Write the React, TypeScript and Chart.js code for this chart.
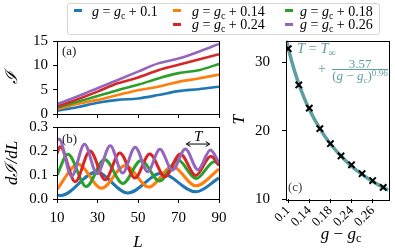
import React, { useEffect, useRef } from "react";
import { Chart, registerables } from "chart.js";

Chart.register(...registerables);

const FONT = "'Liberation Serif', 'DejaVu Serif', serif";
const COLORS = ["#1f77b4", "#ff7f0e", "#2ca02c", "#d62728", "#9467bd"];
const FIT_COLOR = "#5f9ea0";
const LEGEND_LABELS = ["0.1", "0.14", "0.18", "0.24", "0.26"];

// ticks
const L_TICKS = [10, 30, 50, 70, 90];
const A_Y_TICKS = [0, 5, 10, 15];
const B_Y_TICKS = [0, 0.1, 0.2, 0.3];
const C_X_TICKS = [0.1, 0.14, 0.18, 0.22, 0.26];
const C_X_LABELS = ["0.1", "0.14", "0.18", "0.24", "0.26"];
const C_Y_TICKS = [10, 20, 30];

// panel (a): I vs L
const L_A = [10, 20, 30, 40, 50, 60, 70, 80, 90];
const I_BLUE = [0.7, 1.4, 2.3, 2.9, 3.2, 3.9, 4.7, 5.1, 5.6];
const I_ORANGE = [1.0, 2.05, 2.9, 3.9, 4.9, 5.6, 6.6, 7.3, 8.1];
const I_GREEN = [1.3, 2.5, 3.7, 4.9, 6.0, 7.3, 8.4, 9.0, 10.3];
const I_RED = [1.5, 3.0, 4.6, 6.3, 7.5, 9.0, 10.1, 11.2, 12.3];
const I_PURPLE = [2.0, 3.6, 5.3, 7.0, 8.7, 10.4, 11.4, 12.8, 14.4];

// panel (b): dI/dL vs L
const L_B_BLUE = [10, 12, 29.4, 45, 61.5, 78.5, 90];
const D_BLUE = [0.016, 0.015, 0.112, 0.025, 0.107, 0.03, 0.088];
const L_B_ORANGE = [10, 20.4, 32, 43.7, 55.3, 67, 78.6, 90];
const D_ORANGE = [0.04, 0.145, 0.045, 0.14, 0.05, 0.135, 0.055, 0.125];
const L_B_GREEN = [10, 15.4, 24.5, 33.5, 42.5, 51.5, 60.6, 69.7, 78.7, 87.7, 90];
const D_GREEN = [0.1, 0.186, 0.052, 0.165, 0.065, 0.16, 0.075, 0.162, 0.085, 0.155, 0.145];
const L_B_RED = [10, 11.5, 19, 26.3, 33.8, 41, 48.5, 55.8, 63.3, 70.9, 78.5, 86, 90];
const D_RED = [0.19, 0.218, 0.072, 0.2, 0.08, 0.192, 0.088, 0.187, 0.093, 0.188, 0.098, 0.178, 0.14];
const L_B_PURPLE = [10, 11, 17.2, 23.6, 29.8, 36.3, 42.4, 48.6, 54.8, 60.8, 67, 73.4, 79.6, 85.8, 90];
const D_PURPLE = [0.245, 0.25, 0.095, 0.228, 0.105, 0.222, 0.108, 0.216, 0.114, 0.207, 0.12, 0.208, 0.122, 0.204, 0.15];

// period arrow annotation in (b)
const T_ARROW_L = [73.9, 85.4];
const T_ARROW_Y = 0.229;
const T_TEXT_L = 79.7;
const T_TEXT_Y = 0.258;

// panel (c): T vs g - gc
const G_PTS = [0.1, 0.12, 0.14, 0.16, 0.18, 0.2, 0.22, 0.24, 0.26, 0.28];
const T_PTS = [32.0, 26.7, 23.3, 20.3, 18.1, 16.3, 15.0, 13.7, 12.7, 11.7];
const G_FIT = [0.0965, 0.1, 0.11, 0.12, 0.13, 0.14, 0.16, 0.18, 0.2, 0.22, 0.24, 0.26, 0.28, 0.29];
const T_FIT = [33.2, 32.1, 29.25, 26.85, 24.85, 23.1, 20.3, 18.05, 16.3, 14.8, 13.6, 12.55, 11.7, 11.3];

const SERIES_A = [I_BLUE, I_ORANGE, I_GREEN, I_RED, I_PURPLE];
const SERIES_B_L = [L_B_BLUE, L_B_ORANGE, L_B_GREEN, L_B_RED, L_B_PURPLE];
const SERIES_B = [D_BLUE, D_ORANGE, D_GREEN, D_RED, D_PURPLE];

const gridOpts = {
  display: true,
  drawOnChartArea: false,
  drawTicks: true,
  tickLength: 4,
  color: "#000",
  lineWidth: 1,
};
const tickFont = { family: FONT, size: 15 };
const titleFont = { family: FONT, size: 17, style: "italic" as const };

const setTicks = (values: number[]) => (scale: any) => {
  scale.ticks = values.map((v) => ({ value: v }));
};
const fixW = (w: number) => (scale: any) => {
  scale.width = w;
  scale.paddingLeft = scale.paddingRight = scale.paddingTop = scale.paddingBottom = 0;
};
const fixH = (h: number) => (scale: any) => {
  scale.height = h;
  scale.paddingLeft = scale.paddingRight = scale.paddingTop = scale.paddingBottom = 0;
};

const framePlugin = {
  id: "frame",
  afterDraw(chart: any) {
    const { ctx, chartArea: a } = chart;
    ctx.save();
    ctx.strokeStyle = "#000";
    ctx.lineWidth = 1;
    ctx.strokeRect(Math.round(a.left) + 0.5, Math.round(a.top) + 0.5, Math.round(a.right - a.left), Math.round(a.bottom - a.top));
    ctx.restore();
  },
};

const arrowPlugin = {
  id: "periodArrow",
  afterDatasetsDraw(chart: any) {
    const { ctx, scales } = chart;
    const x0 = scales.x.getPixelForValue(T_ARROW_L[0]);
    const x1 = scales.x.getPixelForValue(T_ARROW_L[1]);
    const y = scales.y.getPixelForValue(T_ARROW_Y);
    ctx.save();
    ctx.strokeStyle = "#000";
    ctx.lineWidth = 1;
    ctx.beginPath();
    ctx.moveTo(x0, y);
    ctx.lineTo(x1, y);
    ctx.moveTo(x0 + 4, y - 2.5);
    ctx.lineTo(x0, y);
    ctx.lineTo(x0 + 4, y + 2.5);
    ctx.moveTo(x1 - 4, y - 2.5);
    ctx.lineTo(x1, y);
    ctx.lineTo(x1 - 4, y + 2.5);
    ctx.stroke();
    ctx.fillStyle = "#000";
    ctx.font = `italic 15px ${FONT}`;
    ctx.textAlign = "center";
    ctx.textBaseline = "middle";
    ctx.fillText("T", scales.x.getPixelForValue(T_TEXT_L), scales.y.getPixelForValue(T_TEXT_Y));
    ctx.restore();
  },
};

const baseOptions = (padding: any) => ({
  responsive: false,
  animation: false as const,
  events: [] as any[],
  layout: { padding },
  plugins: { legend: { display: false }, tooltip: { enabled: false } },
});

function configA(): any {
  return {
    type: "line",
    data: {
      datasets: SERIES_A.map((s, i) => ({
        data: L_A.map((L, j) => ({ x: L, y: s[j] })),
        borderColor: COLORS[i],
        borderWidth: 2.6,
        pointRadius: 0,
        cubicInterpolationMode: "monotone",
        order: 4 - i,
      })),
    },
    options: {
      ...baseOptions({ left: 0, top: 13, right: 11, bottom: 2 }),
      scales: {
        x: {
          type: "linear", min: 10, max: 90,
          afterBuildTicks: setTicks(L_TICKS), afterFit: fixH(6),
          ticks: { display: false }, grid: gridOpts, border: { display: false },
        },
        y: {
          type: "linear", min: 0, max: 15,
          afterBuildTicks: setTicks(A_Y_TICKS), afterFit: fixW(57),
          ticks: { font: tickFont, color: "#000", padding: 5, callback: (v: any) => String(v) },
          grid: gridOpts, border: { display: false },
          title: { display: true, text: "\u2110", font: titleFont, color: "#000", padding: { top: 2.3, bottom: 0 } },
        },
      },
    },
    plugins: [framePlugin],
  };
}

function configB(): any {
  return {
    type: "line",
    data: {
      datasets: SERIES_B.map((s, i) => ({
        data: SERIES_B_L[i].map((L, j) => ({ x: L, y: s[j] })),
        borderColor: COLORS[i],
        borderWidth: 3,
        pointRadius: 0,
        cubicInterpolationMode: "monotone",
        order: 4 - i,
      })),
    },
    options: {
      ...baseOptions({ left: 0, top: 11, right: 11, bottom: 0 }),
      scales: {
        x: {
          type: "linear", min: 10, max: 90,
          afterBuildTicks: setTicks(L_TICKS), afterFit: fixH(58),
          ticks: { font: tickFont, color: "#000", padding: 6, maxRotation: 0, autoSkip: false, callback: (v: any) => String(v) },
          grid: gridOpts, border: { display: false },
          title: { display: true, text: "L", font: titleFont, color: "#000", padding: { top: 0, bottom: 4.3 } },
        },
        y: {
          type: "linear", min: 0, max: 0.3,
          afterBuildTicks: setTicks(B_Y_TICKS), afterFit: fixW(57),
          ticks: { font: tickFont, color: "#000", padding: 5, callback: (v: any) => Number(v).toFixed(1) },
          grid: gridOpts, border: { display: false },
          title: { display: true, text: "d\u2110/dL", font: titleFont, color: "#000", padding: { top: 2.3, bottom: 0 } },
        },
      },
    },
    plugins: [framePlugin, arrowPlugin],
  };
}

function configC(): any {
  return {
    type: "line",
    data: {
      datasets: [
        {
          data: G_PTS.map((g, j) => ({ x: g, y: T_PTS[j] })),
          showLine: false,
          pointStyle: "crossRot",
          pointRadius: 4.5,
          pointBorderWidth: 2,
          pointBorderColor: "#000",
          borderColor: "#000",
          order: 0,
        },
        {
          data: G_FIT.map((g, j) => ({ x: g, y: T_FIT[j] })),
          borderColor: FIT_COLOR,
          borderWidth: 3.5,
          pointRadius: 0,
          cubicInterpolationMode: "monotone",
          order: 1,
        },
      ],
    },
    options: {
      ...baseOptions({ left: 0, top: 5, right: 3, bottom: 0 }),
      scales: {
        x: {
          type: "linear", min: 0.0958, max: 0.29,
          afterBuildTicks: setTicks(C_X_TICKS), afterFit: fixH(58),
          ticks: {
            font: { family: FONT, size: 13 }, color: "#000", padding: 0,
            minRotation: 45, maxRotation: 45, autoSkip: false,
            callback: (_v: any, i: number) => C_X_LABELS[i],
          },
          grid: gridOpts, border: { display: false },
        },
        y: {
          type: "linear", min: 10, max: 33.2,
          afterBuildTicks: setTicks(C_Y_TICKS), afterFit: fixW(58),
          ticks: { font: tickFont, color: "#000", padding: 12, callback: (v: any) => String(v) },
          grid: gridOpts, border: { display: false },
          title: { display: true, text: "T", font: titleFont, color: "#000", padding: { top: 1.8, bottom: 0 } },
        },
      },
    },
    plugins: [framePlugin],
  };
}

function Txt(props: { x: number; base: number; size: number; color?: string; width?: number; align?: any; children: any }) {
  const { x, base, size, color, width, align, children } = props;
  return (
    <div
      style={{
        position: "absolute",
        left: x,
        top: base - 0.8375 * size,
        width: width,
        textAlign: align || "left",
        fontSize: size,
        lineHeight: `${size}px`,
        whiteSpace: "nowrap",
        color: color || "#000",
        fontFamily: FONT,
      }}
    >
      {children}
    </div>
  );
}

const Sub = (p: { children: any; s?: number }) => (
  <span style={{ fontSize: `${p.s || 0.7}em`, position: "relative", top: "0.3em" }}>{p.children}</span>
);
const Sup = (p: { children: any }) => (
  <span style={{ fontSize: "0.7em", position: "relative", top: "-0.45em" }}>{p.children}</span>
);

export default function App() {
  const refA = useRef<HTMLCanvasElement>(null);
  const refB = useRef<HTMLCanvasElement>(null);
  const refC = useRef<HTMLCanvasElement>(null);

  useEffect(() => {
    const charts = [
      new Chart(refA.current as HTMLCanvasElement, configA()),
      new Chart(refB.current as HTMLCanvasElement, configB()),
      new Chart(refC.current as HTMLCanvasElement, configC()),
    ];
    return () => charts.forEach((c) => c.destroy());
  }, []);

  const legendPos = [
    { mx: 74, my: 10.7, tx: 92, tb: 16.5 },
    { mx: 173, my: 10.7, tx: 192, tb: 16.5 },
    { mx: 285, my: 10.7, tx: 300, tb: 16.5 },
    { mx: 173, my: 24.7, tx: 192, tb: 29.5 },
    { mx: 285, my: 24.7, tx: 300, tb: 29.5 },
  ];

  return (
    <div style={{ position: "fixed", left: 0, top: 0, width: 395, height: 249, overflow: "hidden", background: "#fff" }}>
      <canvas ref={refA} width={230} height={94} style={{ position: "absolute", left: 0, top: 28 }} />
      <canvas ref={refB} width={230} height={141} style={{ position: "absolute", left: 0, top: 116 }} />
      <canvas ref={refC} width={167} height={223} style={{ position: "absolute", left: 228, top: 34 }} />

      <div
        style={{
          position: "absolute", left: 67, top: 3, width: 311, height: 30,
          border: "1px solid #d6d6d6", borderRadius: 3, background: "rgba(255,255,255,0.8)",
        }}
      />
      {LEGEND_LABELS.map((lab, i) => (
        <React.Fragment key={lab + i}>
          <div style={{ position: "absolute", left: legendPos[i].mx, top: legendPos[i].my - 1.5, width: 8, height: 3, background: COLORS[i] }} />
          <Txt x={legendPos[i].tx} base={legendPos[i].tb} size={14}>
            <i>g</i>&nbsp;=&nbsp;<i>g</i><Sub>c</Sub>&nbsp;+&nbsp;{lab}
          </Txt>
        </React.Fragment>
      ))}

      <Txt x={62} base={54.5} size={13} color="#222">(a)</Txt>
      <Txt x={62} base={142.5} size={13} color="#222">(b)</Txt>
      <Txt x={288} base={190.5} size={13} color="#444">(c)</Txt>

      <Txt x={297} base={53.5} size={14.5} color={FIT_COLOR}>
        <i>T</i>&nbsp;=&nbsp;<i>T</i><Sub>{"\u221E"}</Sub>
      </Txt>
      <Txt x={318} base={74} size={14} color={FIT_COLOR}>+</Txt>
      <Txt x={330} width={60} align="center" base={67.5} size={13} color={FIT_COLOR}>3.57</Txt>
      <div style={{ position: "absolute", left: 332, top: 69, width: 56, height: 1, background: FIT_COLOR }} />
      <Txt x={330} width={60} align="center" base={80} size={13} color={FIT_COLOR}>
        (<i>g</i> − <i>g</i><Sub>c</Sub>)<Sup>0.96</Sup>
      </Txt>

      <Txt x={291} width={100} align="center" base={239} size={17}>
        <i>g</i> − <i>g</i><Sub>c</Sub>
      </Txt>
    </div>
  );
}
